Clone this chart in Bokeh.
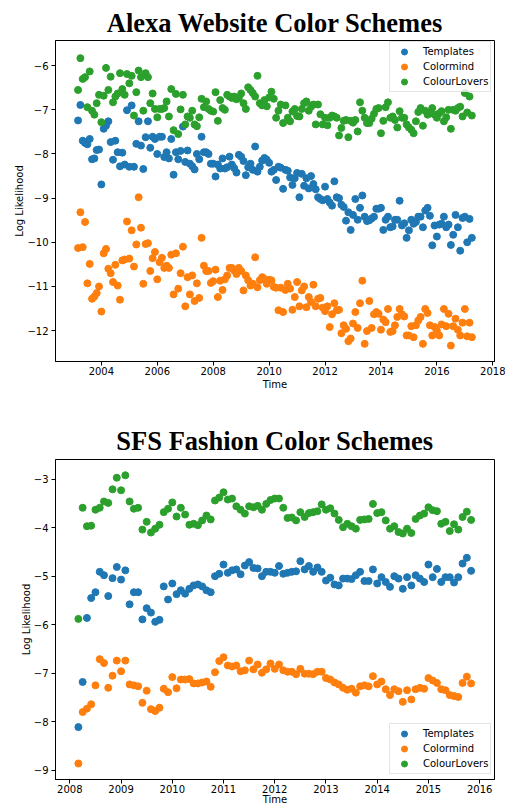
import pandas as pd
from bokeh.plotting import figure
from bokeh.layouts import column
from bokeh.models import Legend, LegendItem, FixedTicker, Range1d, CustomJSTickFormatter
from bokeh.embed import file_html
from bokeh.resources import INLINE

series_names = ["Templates", "Colormind", "ColourLovers"]
series_colors = ["#1f77b4", "#ff7f0e", "#2ca02c"]

# ---- Alexa website colour schemes (monthly, from March 2003) ----
alexa_start = "2003-03-01"
alexa_templates = [
    -7.24, -6.89, -7.70, -7.75, -7.78, -7.66, -8.12, -8.10, -7.91, -7.90,
    -8.69, -7.43, -7.36, -7.26, -7.73, -8.13, -7.70, -7.96, -8.28, -7.97, -8.24, -7.01,
    -8.29, -6.90, -8.29, -7.77, -7.26, -7.81, -8.34, -7.62, -7.26, -7.86, -7.61, -7.66,
    -8.00, -7.61, -7.61, -8.07, -7.96, -8.10, -7.66, -8.47, -7.96, -8.12, -7.93, -7.38,
    -8.18, -7.92, -8.22, -8.28, -8.35, -8.00, -8.12, -7.61, -7.96, -7.96, -8.00, -8.22,
    -8.22, -8.51, -8.24, -8.33, -8.10, -8.33, -8.30, -8.06, -8.24, -8.32, -8.42, -8.02,
    -8.06, -8.16, -8.48, -8.30, -8.22, -8.36, -7.83, -8.40, -8.29, -8.15, -8.09, -8.13,
    -8.20, -8.40, -8.36, -8.59, -8.29, -8.31, -8.79, -8.36, -8.38, -8.53, -8.70, -8.55,
    -8.43, -8.98, -8.45, -8.72, -8.55, -8.78, -8.50, -8.68, -8.80, -8.98, -9.02, -9.05,
    -8.74, -9.02, -9.10, -9.17, -8.62, -8.98, -9.00, -9.15, -9.20, -9.51, -9.32, -9.72,
    -9.38, -9.02, -9.49, -9.22, -8.94, -9.42, -9.52, -9.50, -9.46, -9.42, -9.24, -9.24,
    -9.22, -9.72, -9.49, -9.42, -9.66, -9.64, -9.49, -9.49, -9.06, -9.62, -9.57, -9.90,
    -9.73, -9.49, -9.58, -9.54, -9.42, -9.42, -9.66, -9.28, -9.22, -9.40, -10.07, -9.62,
    -9.87, -9.60, -9.58, -9.42, -9.66, -9.60, -10.06, -9.83, -9.38, -9.66, -10.19, -9.45,
    -9.42, -10.00, -9.47, -9.90,
]
alexa_colormind = [
    -10.13, -9.32, -10.11, -9.54, -10.93, -10.49, -11.28, -11.23, -11.15, -11.00,
    -11.57, -10.25, -10.15, -10.60, -10.70, -10.90, -10.51, -10.98, -11.30, -10.41, -10.39, -9.53,
    -10.37, -9.73, -10.55, -10.05, -8.98, -9.67, -10.94, -10.04, -10.02, -10.65, -10.36, -10.22,
    -10.84, -10.45, -10.35, -10.58, -10.53, -10.58, -10.28, -11.18, -10.25, -11.05, -10.70, -10.10,
    -11.45, -10.79, -11.18, -10.75, -11.33, -10.93, -11.26, -9.90, -10.53, -10.65, -10.65, -10.92,
    -10.88, -10.62, -11.24, -10.87, -11.08, -10.84, -10.75, -10.58, -10.58, -10.64, -10.72, -10.58,
    -10.65, -11.09, -10.75, -10.86, -10.98, -10.94, -10.34, -11.02, -10.86, -10.79, -10.83, -10.94,
    -10.85, -10.86, -11.01, -11.03, -11.54, -11.03, -11.58, -11.08, -10.94, -11.05, -11.53, -11.24,
    -10.90, -11.45, -11.09, -11.00, -11.47, -11.24, -11.35, -10.96, -11.45, -11.28, -11.26, -11.48,
    -11.56, -11.45, -11.92, -11.63, -11.38, -11.54, -11.53, -12.06, -11.88, -11.96, -12.24, -12.18,
    -11.84, -11.58, -11.94, -11.38, -10.87, -12.30, -12.01, -11.33, -11.94, -11.63, -11.58, -11.62,
    -11.98, -11.75, -11.81, -11.51, -12.03, -12.01, -11.88, -11.69, -11.51, -11.63, -11.68, -12.11,
    -12.11, -11.90, -12.15, -11.88, -11.77, -11.69, -12.30, -11.51, -11.60, -11.88, -12.11, -11.92,
    -12.00, -12.11, -11.86, -11.51, -11.90, -11.62, -12.34, -11.90, -11.73, -11.98, -12.11, -11.82,
    -11.51, -12.13, -11.82, -12.15,
]
alexa_colourlovers = [
    -6.55, -5.83, -6.30, -6.26, -6.94, -6.13, -7.02, -7.11, -6.85, -6.66,
    -7.28, -6.68, -6.05, -6.55, -6.25, -6.83, -6.70, -6.63, -6.17, -6.53, -6.66, -6.19,
    -6.40, -6.23, -7.13, -6.60, -6.11, -6.26, -7.02, -6.17, -6.26, -6.85, -6.63, -6.98,
    -7.17, -6.98, -6.98, -6.96, -6.81, -7.15, -6.53, -7.46, -6.64, -7.55, -6.99, -6.66,
    -7.33, -7.15, -7.18, -7.02, -7.33, -7.37, -7.17, -6.75, -6.94, -6.81, -6.98, -7.02,
    -7.04, -6.60, -7.25, -6.78, -6.96, -7.00, -6.66, -6.70, -6.73, -6.70, -6.76, -6.73,
    -6.63, -6.85, -6.98, -6.49, -6.55, -6.62, -6.70, -6.23, -6.85, -6.90, -6.78, -6.92,
    -6.72, -6.59, -6.75, -7.18, -7.02, -6.88, -7.30, -6.90, -7.18, -7.26, -7.04, -6.98,
    -7.14, -7.15, -6.98, -6.85, -6.81, -7.02, -6.93, -6.88, -7.33, -6.88, -7.10, -7.33,
    -7.18, -7.35, -7.18, -7.13, -7.15, -7.18, -7.58, -7.41, -7.25, -7.23, -7.62, -7.25,
    -7.29, -7.23, -7.49, -6.83, -7.02, -7.18, -7.30, -7.30, -7.20, -7.09, -6.98, -6.96,
    -7.53, -7.25, -6.94, -6.83, -7.18, -7.15, -7.23, -7.40, -7.03, -7.18, -7.18, -7.33,
    -7.40, -7.45, -7.53, -7.26, -7.05, -6.96, -7.36, -7.02, -7.11, -7.08, -6.96, -7.11,
    -7.18, -7.08, -7.03, -7.26, -7.17, -7.00, -7.43, -7.00, -7.02, -6.96, -6.93, -7.15,
    -6.62, -7.06, -6.70, -7.13,
]

# ---- SFS fashion colour schemes (monthly, from March 2008) ----
sfs_start = "2008-03-01"
sfs_templates = [
    -8.11, -7.18, -5.86, -5.45, -5.33, -4.91, -4.98, -5.41, -5.04, -4.81, -5.07, -4.88,
    -5.58, -5.33, -5.33, -5.89, -5.66, -5.75, -5.94, -5.90, -5.21, -5.48, -5.15, -5.37,
    -5.29, -5.36, -5.26, -5.19, -5.17, -5.21, -5.29, -5.33, -5.00, -4.95, -4.76, -4.93,
    -4.88, -4.86, -4.96, -4.78, -4.71, -4.83, -4.84, -5.00, -4.91, -4.91, -4.93, -4.79,
    -4.95, -4.93, -4.91, -4.90, -4.69, -4.86, -4.79, -4.91, -4.82, -4.91, -5.09, -5.03,
    -5.17, -5.19, -5.05, -5.05, -5.06, -4.98, -4.91, -5.10, -5.10, -4.86, -5.15, -5.02,
    -5.12, -5.22, -5.00, -5.05, -5.26, -5.02, -5.19, -4.98, -5.05, -5.12, -4.76, -5.02,
    -4.85, -5.12, -5.02, -5.02, -5.13, -5.02, -4.74, -4.62, -4.89,
]
sfs_colormind = [
    -8.86, -7.80, -7.73, -7.64, -7.25, -6.71, -6.79, -7.30, -7.05, -6.74, -6.96, -6.74,
    -7.23, -7.25, -7.27, -7.61, -7.36, -7.74, -7.78, -7.71, -7.32, -7.39, -7.08, -7.31,
    -7.13, -7.13, -7.12, -7.21, -7.21, -7.19, -7.17, -7.28, -6.98, -6.75, -6.67, -6.84,
    -6.86, -6.84, -6.96, -6.94, -6.74, -6.92, -6.82, -6.99, -6.92, -6.80, -6.91, -6.82,
    -6.94, -6.97, -6.97, -7.02, -6.91, -7.01, -7.01, -7.02, -6.97, -6.97, -7.10, -7.13,
    -7.19, -7.23, -7.30, -7.34, -7.32, -7.40, -7.27, -7.25, -7.27, -7.06, -7.23, -7.17,
    -7.33, -7.45, -7.33, -7.37, -7.59, -7.35, -7.54, -7.33, -7.30, -7.32, -7.10, -7.15,
    -7.20, -7.33, -7.35, -7.45, -7.47, -7.49, -7.20, -7.07, -7.21,
]
sfs_colourlovers = [
    -5.88, -3.59, -3.97, -3.96, -3.63, -3.59, -3.46, -3.49, -3.21, -2.97, -3.23, -2.92,
    -3.46, -3.61, -3.59, -4.04, -3.88, -4.10, -4.02, -3.94, -3.68, -3.61, -3.48, -3.77,
    -3.59, -3.73, -3.94, -3.92, -3.95, -3.85, -3.75, -3.83, -3.44, -3.38, -3.27, -3.42,
    -3.40, -3.56, -3.63, -3.71, -3.56, -3.58, -3.55, -3.63, -3.51, -3.43, -3.40, -3.40,
    -3.59, -3.80, -3.79, -3.85, -3.68, -3.78, -3.70, -3.68, -3.66, -3.52, -3.63, -3.60,
    -3.71, -3.84, -3.99, -3.92, -3.97, -4.02, -3.84, -3.83, -3.82, -3.51, -3.70, -3.68,
    -3.85, -4.02, -3.97, -4.09, -4.12, -4.02, -4.11, -3.82, -3.75, -3.71, -3.58, -3.64,
    -3.66, -3.92, -3.88, -4.07, -3.93, -4.04, -3.78, -3.67, -3.84,
]

alexa_xticks = [2004, 2006, 2008, 2010, 2012, 2014, 2016, 2018]
alexa_yticks = [-12, -11, -10, -9, -8, -7, -6]
sfs_xticks = [2008, 2009, 2010, 2011, 2012, 2013, 2014, 2015, 2016]
sfs_yticks = [-9, -8, -7, -6, -5, -4, -3]


def decimal_years(start, n):
    d = pd.date_range(start, periods=n, freq="MS")
    return list(d.year + (d.month - 1) / 12.0)


minus_fmt = CustomJSTickFormatter(code="return tick < 0 ? '\u2212' + Math.abs(tick) : '' + tick;")


def make_plot(title, start, series, xr, yr, xticks, yticks, legend_xy, height,
              top, bottom, title_standoff, x_label_standoff):
    p = figure(width=505, height=height, x_range=Range1d(*xr), y_range=Range1d(*yr),
               output_backend="svg", toolbar_location=None,
               min_border_left=55, min_border_right=11, min_border_top=top,
               min_border_bottom=bottom, title=title)
    p.title.text_font = "Liberation Serif"
    p.title.text_font_size = "26.5px"
    p.title.text_font_style = "bold"
    p.title.text_color = "black"
    p.title.align = "center"
    p.title.standoff = title_standoff
    p.xgrid.visible = False
    p.ygrid.visible = False
    p.outline_line_color = "black"
    p.outline_line_width = 1
    p.outline_line_alpha = 1
    p.background_fill_color = "white"
    p.border_fill_color = "white"

    p.xaxis.ticker = FixedTicker(ticks=xticks, minor_ticks=[])
    p.yaxis.ticker = FixedTicker(ticks=yticks, minor_ticks=[])
    p.yaxis.formatter = minus_fmt
    for ax in (p.xaxis, p.yaxis):
        ax.axis_line_color = "black"
        ax.major_tick_line_color = "black"
        ax.major_tick_in = 0
        ax.major_tick_out = 4
        ax.minor_tick_in = 0
        ax.minor_tick_out = 0
        ax.major_label_text_font = "DejaVu Sans"
        ax.major_label_text_font_size = "10px"
        ax.major_label_text_color = "black"
        ax.axis_label_text_font = "DejaVu Sans"
        ax.axis_label_text_font_size = "10px"
        ax.axis_label_text_font_style = "normal"
        ax.axis_label_text_color = "black"
    p.xaxis.major_label_standoff = 1
    p.yaxis.major_label_standoff = 3
    p.xaxis.axis_label = "Time"
    p.xaxis.axis_label_standoff = x_label_standoff
    p.yaxis.axis_label = "Log Likelihood"
    p.yaxis.axis_label_standoff = -1

    items = []
    for name, color, ys in zip(series_names, series_colors, series):
        xs = decimal_years(start, len(ys))
        r = p.scatter(xs, ys, size=7, fill_color=color, line_color=color)
        items.append(LegendItem(label=name, renderers=[r]))

    legend = Legend(items=items, location=legend_xy)
    legend.label_text_font = "DejaVu Sans"
    legend.label_text_font_size = "10px"
    legend.label_text_color = "black"
    legend.border_line_color = "#cccccc"
    legend.border_line_width = 1
    legend.background_fill_alpha = 0.8
    legend.padding = 2
    legend.spacing = 0
    legend.margin = 0
    legend.glyph_width = 24
    legend.glyph_height = 15
    legend.label_height = 15
    legend.label_standoff = 7
    p.add_layout(legend)
    return p


p1 = make_plot("Alexa Website Color Schemes", alexa_start,
               [alexa_templates, alexa_colormind, alexa_colourlovers],
               (2002.36, 2018.06), (-12.70, -5.43), alexa_xticks, alexa_yticks,
               (334, 269), 405, 40, 44, 5, 1)
p2 = make_plot("SFS Fashion Color Schemes", sfs_start,
               [sfs_templates, sfs_colormind, sfs_colourlovers],
               (2007.72, 2016.29), (-9.19, -2.595), sfs_xticks, sfs_yticks,
               (334, 5), 402, 54, 24, 8, -2)

layout = column(p1, p2, spacing=0)
open("out.html", "w").write(file_html(layout, INLINE))
